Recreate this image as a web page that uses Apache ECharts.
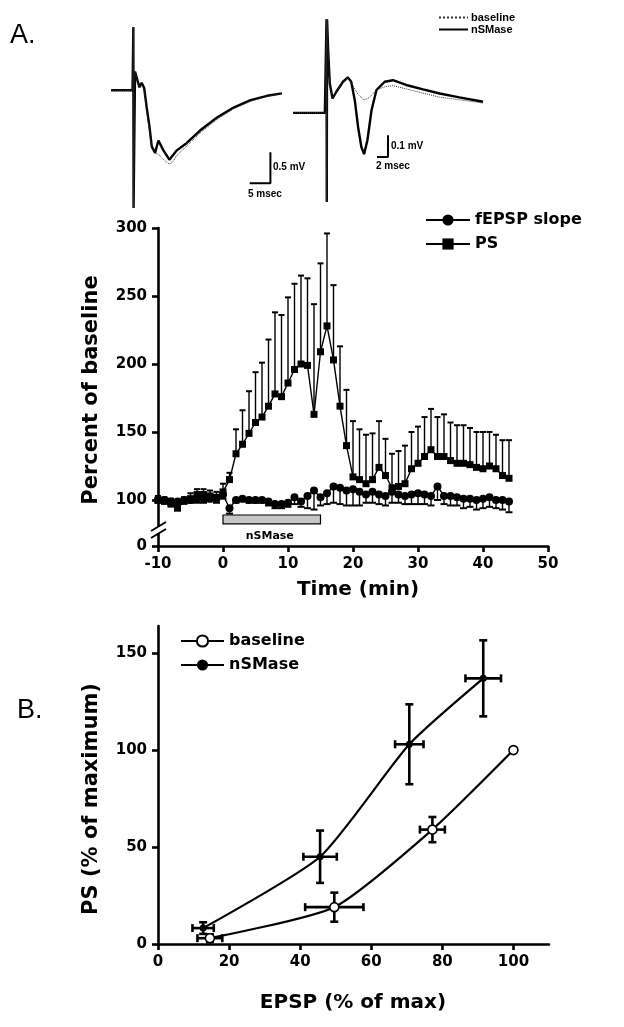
<!DOCTYPE html>
<html><head><meta charset="utf-8">
<script src="https://cdn.jsdelivr.net/npm/echarts@6/dist/echarts.min.js"></script>
<style>html,body{margin:0;padding:0;background:#fff}#c{width:624px;height:1027px}</style>
</head><body><div id="c"></div>
<script>
// ---------- Sample field-potential traces (ms, mV) ----------
const traceL_time = [-5.4, -0.2, 0, 0.05, 0.4, 1.45, 2.0, 2.6, 3.2, 3.9, 4.45, 5.25, 6.05, 7.26, 8.7, 10.5, 12.9, 16.1, 20.2, 24.2, 28.3, 32.3, 35.9];
const traceL_nsmase = [0, 0, 1.02, -1.9, 0.3, 0.05, 0.12, 0.04, -0.27, -0.59, -0.91, -1.01, -0.81, -0.97, -1.12, -0.97, -0.85, -0.65, -0.44, -0.28, -0.16, -0.09, -0.05];
const traceL_baseTime = [-5.4, -0.2, 0, 0.05, 0.4, 1.45, 2.0, 2.6, 3.2, 3.9, 4.45, 5.25, 6.05, 7.0, 8.0, 8.7, 9.5, 10.5, 12.9, 16.1, 20.2, 24.2, 28.3, 32.3, 35.9];
const traceL_baseline = [0, 0, 1.02, -1.9, 0.3, 0.03, 0.08, 0.0, -0.32, -0.66, -0.92, -1.02, -1.03, -1.1, -1.16, -1.19, -1.16, -1.05, -0.9, -0.69, -0.47, -0.3, -0.18, -0.1, -0.05];
const traceR_time = [-6.1, -0.3, 0, 0.05, 0.1, 0.3, 0.6, 1.1, 1.8, 3.0, 3.9, 4.5, 5.15, 5.75, 6.35, 6.85, 7.45, 8.2, 9.1, 10.6, 12.1, 14.5, 17.6, 20.6, 24.2, 28.5];
const traceR_nsmase = [0, 0, 0.43, -0.41, 0.43, 0.29, 0.135, 0.066, 0.097, 0.143, 0.163, 0.143, 0.058, -0.065, -0.157, -0.19, -0.126, 0.012, 0.105, 0.143, 0.15, 0.128, 0.108, 0.089, 0.071, 0.051];
const traceR_baseline = [0, 0, 0.43, -0.41, 0.43, 0.29, 0.135, 0.066, 0.097, 0.143, 0.16, 0.14, 0.11, 0.085, 0.07, 0.06, 0.065, 0.08, 0.105, 0.12, 0.125, 0.11, 0.09, 0.072, 0.06, 0.045];
// scale bars: left 5 ms / 0.5 mV, right 2 ms / 0.1 mV
const scaleL_time = [28.1, 33.1, 33.1];
const scaleL_mv = [-1.5, -1.5, -1.0];
const scaleR_time = [9.2, 11.2, 11.2];
const scaleR_mv = [-0.203, -0.203, -0.103];

// ---------- Panel A: time course ----------
const timeMin = [-10,-9,-8,-7,-6,-5,-4,-3,-2,-1,0,1,2,3,4,5,6,7,8,9,10,11,12,13,14,15,16,17,18,19,20,21,22,23,24,25,26,27,28,29,30,31,32,33,34,35,36,37,38,39,40,41,42,43,44];
const psMean = [100,99,97,94,99,101,104,104,103,102,106,115,134,141,149,157,161,169,178,176,186,196,200,199,163,209,228,203,169,140,117,115,112,115,124,118,109,110,112,123,127,132,137,132,132,129,127,127,126,124,123,125,123,118,116];
const psSem = [3,3,4,4,3,4,4,4,4,4,6,5,18,25,31,37,40,49,60,60,63,63,65,64,81,65,68,55,44,41,41,37,36,34,34,27,25,26,28,27,27,29,30,29,31,28,28,28,27,26,27,25,25,26,28];
const epspMean = [100,100,99,99,100,100,101,101,101,101,104,94,100,101,100,100,100,99,97,97,98,102,99,103,107,102,105,110,109,107,108,106,104,106,104,103,106,104,103,104,105,104,103,110,103,103,102,101,101,100,101,102,100,100,99];
const epspSem = [2,2,3,3,2,2,3,3,2,3,3,4,2,2,2,2,2,3,3,3,3,5,4,9,14,6,8,12,12,11,12,10,6,8,7,7,8,6,6,7,8,7,7,10,6,7,6,7,6,7,7,7,6,7,8];
const drugStartMin = 0, drugEndMin = 15;
const aYTicks = [100, 150, 200, 250, 300];
const aXTicks = [-10, 0, 10, 20, 30, 40, 50];

// ---------- Panel B: input-output ----------
const baseEPSP = [14.6, 49.6, 77.2, 100];
const basePS = [3, 19, 59, 100];
const baseEPSPerr = [3.5, 8.2, 3.5, 0];
const basePSerr = [2, 7.5, 6.5, 0];
const nsmEPSP = [12.7, 45.6, 70.7, 91.5];
const nsmPS = [8.2, 45, 103, 137];
const nsmEPSPerr = [3, 4.7, 4, 5];
const nsmPSerr = [3, 13.5, 20.6, 19.6];
const bXTicks = [0, 20, 40, 60, 80, 100];
const bYTicks = [0, 50, 100, 150];

const F = "'DejaVu Sans', sans-serif";
const zip = (a, b) => a.map((v, i) => [v, b[i]]);
const aYMin = 66.2;

const chart = echarts.init(document.getElementById('c'), null, {width: 624, height: 1027});

function hiddenAxis(min, max, gi) {
  return {type: 'value', gridIndex: gi, min, max, show: false, splitLine: {show: false}};
}
function visAxis(gi, min, max, ticks, fmt, extra) {
  return Object.assign({
    type: 'value', gridIndex: gi, min, max,
    axisLine: {show: true, onZero: false, lineStyle: {color: '#000', width: 2.6}},
    axisTick: {show: true, inside: false, length: 6, customValues: ticks, lineStyle: {color: '#000', width: 2.6}},
    axisLabel: {show: true, customValues: ticks, color: '#000', fontFamily: F, fontWeight: 'bold', fontSize: 15, margin: 11, formatter: fmt},
    splitLine: {show: false}
  }, extra || {});
}

const errUp = (params, api) => {
  const p = api.coord([api.value(0), api.value(1)]);
  const t = api.coord([api.value(0), api.value(1) + api.value(2)]);
  return {type: 'group', children: [
    {type: 'line', shape: {x1: p[0], y1: p[1], x2: t[0], y2: t[1]}, style: {stroke: '#000', lineWidth: 1.4}},
    {type: 'line', shape: {x1: t[0] - 3, y1: t[1], x2: t[0] + 3, y2: t[1]}, style: {stroke: '#000', lineWidth: 2}}
  ]};
};
const errDown = (params, api) => {
  const p = api.coord([api.value(0), api.value(1)]);
  const t = api.coord([api.value(0), api.value(1) - api.value(2)]);
  return {type: 'group', children: [
    {type: 'line', shape: {x1: p[0], y1: p[1], x2: t[0], y2: t[1]}, style: {stroke: '#000', lineWidth: 1.4}},
    {type: 'line', shape: {x1: t[0] - 3.5, y1: t[1], x2: t[0] + 3.5, y2: t[1]}, style: {stroke: '#000', lineWidth: 2}}
  ]};
};
const errXY = (params, api) => {
  const x = api.value(0), y = api.value(1), ex = api.value(2), ey = api.value(3);
  const ch = [];
  if (ex > 0) {
    const a = api.coord([x - ex, y]), b = api.coord([x + ex, y]);
    ch.push({type: 'line', shape: {x1: a[0], y1: a[1], x2: b[0], y2: b[1]}, style: {stroke: '#000', lineWidth: 2.6}});
    ch.push({type: 'line', shape: {x1: a[0], y1: a[1] - 4, x2: a[0], y2: a[1] + 4}, style: {stroke: '#000', lineWidth: 2.6}});
    ch.push({type: 'line', shape: {x1: b[0], y1: b[1] - 4, x2: b[0], y2: b[1] + 4}, style: {stroke: '#000', lineWidth: 2.6}});
  }
  if (ey > 0) {
    const a = api.coord([x, y - ey]), b = api.coord([x, y + ey]);
    ch.push({type: 'line', shape: {x1: a[0], y1: a[1], x2: b[0], y2: b[1]}, style: {stroke: '#000', lineWidth: 2.6}});
    ch.push({type: 'line', shape: {x1: a[0] - 4, y1: a[1], x2: a[0] + 4, y2: a[1]}, style: {stroke: '#000', lineWidth: 2.6}});
    ch.push({type: 'line', shape: {x1: b[0] - 4, y1: b[1], x2: b[0] + 4, y2: b[1]}, style: {stroke: '#000', lineWidth: 2.6}});
  }
  return {type: 'group', children: ch};
};

const txt = (x, y, text, size, opts) => Object.assign({
  type: 'text', x, y, z: 100,
  style: Object.assign({text, font: 'bold ' + size + 'px ' + F, fill: '#000',
    align: 'left', verticalAlign: 'middle', textAlign: 'left', textVerticalAlign: 'middle'}, (opts && opts.style) || {})
}, (opts && opts.el) || {});

const option = {
  animation: false,
  backgroundColor: '#fff',
  grid: [
    {left: 111, top: 27, width: 171, height: 181, containLabel: false, outerBoundsMode: 'none'},
    {left: 293, top: 18, width: 190, height: 184, containLabel: false, outerBoundsMode: 'none'},
    {left: 158, top: 228, width: 390, height: 318, containLabel: false, outerBoundsMode: 'none'},
    {left: 158, top: 626, width: 391, height: 318, containLabel: false, outerBoundsMode: 'none'}
  ],
  xAxis: [
    hiddenAxis(-5.4, 35.9, 0),
    hiddenAxis(-6.1, 28.5, 1),
    visAxis(2, -10, 50, aXTicks, v => String(v)),
    visAxis(3, 0, 110, bXTicks, v => String(v))
  ],
  yAxis: [
    hiddenAxis(-1.9, 1.02, 0),
    hiddenAxis(-0.41, 0.436, 1),
    visAxis(2, aYMin, 300, [aYMin].concat(aYTicks), v => (v < 90 ? '0' : String(v))),
    visAxis(3, 0, 164, bYTicks, v => String(v))
  ],
  legend: [
    {left: 438, top: 12, padding: 0, orient: 'vertical', itemWidth: 29, itemHeight: 8, itemGap: 1,
     data: ['trace baseline', 'trace nSMase'], formatter: n => n.replace('trace ', ''),
     itemStyle: {color: 'rgba(0,0,0,0)', borderWidth: 0},
     textStyle: {fontFamily: "'Liberation Sans', sans-serif", fontWeight: 'bold', fontSize: 11, color: '#000', padding: [0, 0, 0, -2]}, selectedMode: false},
    {left: 425, top: 212, padding: 0, orient: 'vertical', itemWidth: 44, itemHeight: 14, itemGap: 8,
     data: ['fEPSP slope', 'PS'],
     textStyle: {fontFamily: F, fontWeight: 'bold', fontSize: 16, color: '#000'}, selectedMode: false},
    {left: 180, top: 633, padding: 0, orient: 'vertical', itemWidth: 43, itemHeight: 14, itemGap: 8,
     data: ['baseline', 'nSMase'],
     textStyle: {fontFamily: F, fontWeight: 'bold', fontSize: 16, color: '#000'}, selectedMode: false}
  ],
  series: [
    {name: 'trace baseline', type: 'line', xAxisIndex: 0, yAxisIndex: 0, data: zip(traceL_baseTime, traceL_baseline), symbol: 'none', itemStyle: {color: '#333'}, lineStyle: {color: '#333', width: 1, type: 'dotted'}, z: 3},
    {name: 'trace nSMase', type: 'line', xAxisIndex: 0, yAxisIndex: 0, data: zip(traceL_time, traceL_nsmase), symbol: 'none', itemStyle: {color: '#000'}, lineStyle: {color: '#000', width: 2.4}, z: 2},
    {name: 'trace baseline', type: 'line', xAxisIndex: 1, yAxisIndex: 1, data: zip(traceR_time, traceR_baseline), symbol: 'none', itemStyle: {color: '#333'}, lineStyle: {color: '#333', width: 1, type: 'dotted'}, z: 3},
    {name: 'trace nSMase', type: 'line', xAxisIndex: 1, yAxisIndex: 1, data: zip(traceR_time, traceR_nsmase), symbol: 'none', itemStyle: {color: '#000'}, lineStyle: {color: '#000', width: 2.4}, z: 2},
    {name: 'scaleL', type: 'line', xAxisIndex: 0, yAxisIndex: 0, data: zip(scaleL_time, scaleL_mv), symbol: 'none', lineStyle: {color: '#000', width: 2}},
    {name: 'scaleR', type: 'line', xAxisIndex: 1, yAxisIndex: 1, data: zip(scaleR_time, scaleR_mv), symbol: 'none', lineStyle: {color: '#000', width: 2}},

    {name: 'drug', type: 'custom', xAxisIndex: 2, yAxisIndex: 2, data: [[drugStartMin, drugEndMin]], z: 1,
     renderItem: (params, api) => {
       const a = api.coord([api.value(0), 89]);
       const b = api.coord([api.value(1), 82.5]);
       return {type: 'group', children: [
         {type: 'rect', shape: {x: a[0], y: a[1], width: b[0] - a[0], height: b[1] - a[1]}, style: {fill: '#c6c6c6', stroke: '#000', lineWidth: 1.2}},
         {type: 'text', style: {x: (a[0] + b[0]) / 2 - 2, y: b[1] + 12, text: 'nSMase', font: "bold 11px 'DejaVu Sans'", fill: '#000', align: 'center', verticalAlign: 'middle'}}
       ]};
     }},
    {name: 'psErr', type: 'custom', xAxisIndex: 2, yAxisIndex: 2, data: timeMin.map((t, i) => [t, psMean[i], psSem[i]]), renderItem: errUp, z: 2, encode: {x: 0, y: 1}},
    {name: 'epspErr', type: 'custom', xAxisIndex: 2, yAxisIndex: 2, data: timeMin.map((t, i) => [t, epspMean[i], epspSem[i]]), renderItem: errDown, z: 2, encode: {x: 0, y: 1}},
    {name: 'PS', type: 'line', xAxisIndex: 2, yAxisIndex: 2, data: zip(timeMin, psMean), symbol: 'rect', symbolSize: 7,
     itemStyle: {color: '#000'}, lineStyle: {color: '#000', width: 1.4}, z: 4},
    {name: 'fEPSP slope', type: 'line', xAxisIndex: 2, yAxisIndex: 2, data: zip(timeMin, epspMean), symbol: 'circle', symbolSize: 8,
     itemStyle: {color: '#000'}, lineStyle: {color: '#000', width: 1.4}, z: 5},

    {name: 'baseErr', type: 'custom', xAxisIndex: 3, yAxisIndex: 3, data: baseEPSP.map((x, i) => [x, basePS[i], baseEPSPerr[i], basePSerr[i]]), renderItem: errXY, z: 2, encode: {x: 0, y: 1}},
    {name: 'nsmErr', type: 'custom', xAxisIndex: 3, yAxisIndex: 3, data: nsmEPSP.map((x, i) => [x, nsmPS[i], nsmEPSPerr[i], nsmPSerr[i]]), renderItem: errXY, z: 2, encode: {x: 0, y: 1}},
    {name: 'baseline', type: 'line', xAxisIndex: 3, yAxisIndex: 3, data: zip(baseEPSP, basePS), smooth: 0.2, symbol: 'circle', symbolSize: 9,
     itemStyle: {color: '#fff', borderColor: '#000', borderWidth: 1.6}, lineStyle: {color: '#000', width: 2.2}, z: 4},
    {name: 'nSMase', type: 'line', xAxisIndex: 3, yAxisIndex: 3, data: zip(nsmEPSP, nsmPS), smooth: 0.2, symbol: 'circle', symbolSize: 7,
     itemStyle: {color: '#000'}, lineStyle: {color: '#000', width: 2.2}, z: 4}
  ],
  graphic: [
    txt(10, 36, 'A.', 27, {style: {font: "27px 'Liberation Sans', sans-serif"}}),
    txt(17, 711, 'B.', 27, {style: {font: "27px 'Liberation Sans', sans-serif"}}),
    txt(273, 167, '0.5 mV', 10, {style: {font: "bold 10px 'Liberation Sans', sans-serif"}}),
    txt(248, 194, '5 msec', 10, {style: {font: "bold 10px 'Liberation Sans', sans-serif"}}),
    txt(391, 146, '0.1 mV', 10, {style: {font: "bold 10px 'Liberation Sans', sans-serif"}}),
    txt(376, 166, '2 msec', 10, {style: {font: "bold 10px 'Liberation Sans', sans-serif"}}),
    txt(92, 390, 'Percent of baseline', 21, {el: {rotation: Math.PI / 2}, style: {align: 'center', textAlign: 'center'}}),
    txt(358, 590, 'Time (min)', 20, {style: {align: 'center', textAlign: 'center'}}),
    txt(92, 799, 'PS (% of maximum)', 21, {el: {rotation: Math.PI / 2}, style: {align: 'center', textAlign: 'center'}}),
    txt(353, 1003, 'EPSP (% of max)', 20, {style: {align: 'center', textAlign: 'center'}}),
    // axis break marks
    {type: 'rect', z: 100, shape: {x: 154, y: 526, width: 8, height: 7}, style: {fill: '#fff'}},
    {type: 'line', z: 101, shape: {x1: 151, y1: 531, x2: 166, y2: 522}, style: {stroke: '#000', lineWidth: 2}},
    {type: 'line', z: 101, shape: {x1: 151, y1: 538, x2: 166, y2: 529}, style: {stroke: '#000', lineWidth: 2}}
  ]
};
chart.setOption(option);
</script>
</body></html>
